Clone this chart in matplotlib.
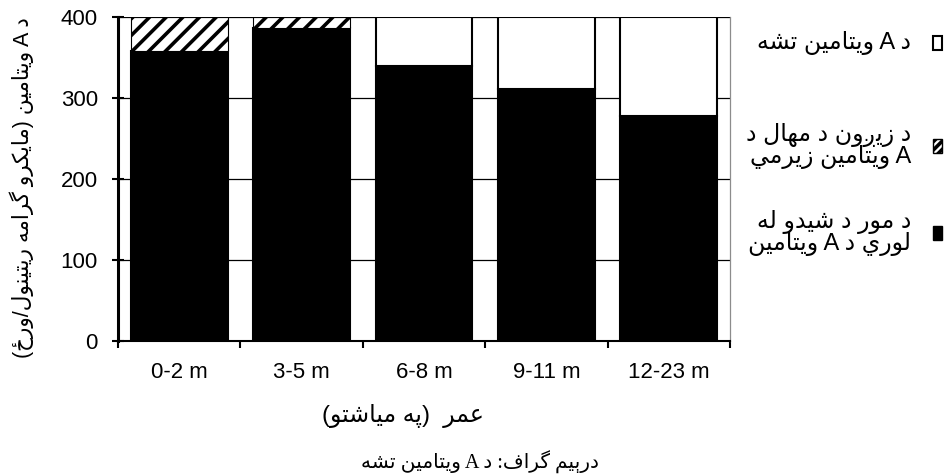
import re
import numpy as np
import matplotlib
matplotlib.use("Agg")
import matplotlib.pyplot as plt
from matplotlib.patches import Rectangle

# ---------------------------------------------------------------- data
age_groups = ["0-2 m", "3-5 m", "6-8 m", "9-11 m", "12-23 m"]
breast_milk = [358, 387, 340, 311, 278]   # vitamin A from breast milk
birth_stores = [42, 13, 0, 0, 0]          # vitamin A stores at birth
gap = [0, 0, 60, 89, 122]                 # vitamin A gap
y_ticks = [0, 100, 200, 300, 400]

legend_gap = "د A ويتامين تشه"
legend_stores = ["د زيږون د مهال د", "A ويتامين زيرمي"]
legend_milk = ["د مور د شيدو له", "لوري د A ويتامين"]
y_title = "د A ويتامين (مايکرو گرامه ريتينول/ورځ)"
x_title = "عمر  (په مياشتو)"
caption = "درېيم گراف: د A ويتامين تشه"

# ------------------------------------------- Arabic-script shaping helper
# contextual forms: (isolated, final, initial, medial); two entries = right-joining only
FORMS = {
    "ا": ("\uFE8D", "\uFE8E"),
    "ب": ("\uFE8F", "\uFE90", "\uFE91", "\uFE92"),
    "ت": ("\uFE95", "\uFE96", "\uFE97", "\uFE98"),
    "ج": ("\uFE9D", "\uFE9E", "\uFE9F", "\uFEA0"),
    "ح": ("\uFEA1", "\uFEA2", "\uFEA3", "\uFEA4"),
    "خ": ("\uFEA5", "\uFEA6", "\uFEA7", "\uFEA8"),
    "د": ("\uFEA9", "\uFEAA"),
    "ذ": ("\uFEAB", "\uFEAC"),
    "ر": ("\uFEAD", "\uFEAE"),
    "ز": ("\uFEAF", "\uFEB0"),
    "س": ("\uFEB1", "\uFEB2", "\uFEB3", "\uFEB4"),
    "ش": ("\uFEB5", "\uFEB6", "\uFEB7", "\uFEB8"),
    "ع": ("\uFEC9", "\uFECA", "\uFECB", "\uFECC"),
    "ف": ("\uFED1", "\uFED2", "\uFED3", "\uFED4"),
    "ك": ("\uFED9", "\uFEDA", "\uFEDB", "\uFEDC"),
    "ل": ("\uFEDD", "\uFEDE", "\uFEDF", "\uFEE0"),
    "م": ("\uFEE1", "\uFEE2", "\uFEE3", "\uFEE4"),
    "ن": ("\uFEE5", "\uFEE6", "\uFEE7", "\uFEE8"),
    "ه": ("\uFEE9", "\uFEEA", "\uFEEB", "\uFEEC"),
    "و": ("\uFEED", "\uFEEE"),
    "ي": ("\uFEF1", "\uFEF2", "\uFEF3", "\uFEF4"),
    "ی": ("\uFBFC", "\uFBFD", "\uFBFE", "\uFBFF"),
    "ې": ("\uFBE4", "\uFBE5", "\uFBE6", "\uFBE7"),
    "پ": ("\uFB56", "\uFB57", "\uFB58", "\uFB59"),
    "ک": ("\uFB8E", "\uFB8F", "\uFB90", "\uFB91"),
    "گ": ("\uFB92", "\uFB93", "\uFB94", "\uFB95"),
    "ږ": ("ږ", "ږ"),
    "ځ": ("ځ", "ځ", "ځ", "ځ"),
}


def shape(s):
    out = []
    for i, c in enumerate(s):
        if c not in FORMS:
            out.append(c)
            continue
        prev = s[i - 1] if i > 0 else ""
        nxt = s[i + 1] if i + 1 < len(s) else ""
        f = FORMS[c]
        join_prev = prev in FORMS and len(FORMS[prev]) == 4
        join_next = len(f) == 4 and nxt in FORMS
        if join_prev and join_next:
            out.append(f[3])
        elif join_prev:
            out.append(f[1])
        elif join_next:
            out.append(f[2])
        else:
            out.append(f[0])
    return "".join(out)


def rtl(s):
    """Shape and put a right-to-left line into display order."""
    v = shape(s)[::-1]
    v = v.translate(str.maketrans("()", ")("))
    return re.sub(r"[A-Za-z0-9]+", lambda m: m.group(0)[::-1], v)


# ---------------------------------------------------------------- style
SANS = ["Liberation Sans", "DejaVu Sans"]
SERIF = ["Liberation Serif", "DejaVu Sans"]
plt.rcParams["font.family"] = SANS
plt.rcParams["hatch.linewidth"] = 2.6

fig = plt.figure(figsize=(9.51, 4.76), dpi=100)
ax = fig.add_axes([0.1241, 0.2836, 0.6435, 0.6807])

x = np.arange(len(age_groups))
width = 0.79
edge = dict(edgecolor="black", linewidth=1.5)

bottom = np.zeros(len(x))
ax.bar(x, breast_milk, width, bottom=bottom, color="black", **edge, zorder=2)
bottom += np.array(breast_milk)
ax.bar(x, birth_stores, width, bottom=bottom, color="white", hatch="//",
       edgecolor="black", linewidth=0.8, zorder=2)
bottom += np.array(birth_stores)
ax.bar(x, gap, width, bottom=bottom, color="white", **edge, zorder=2)

ax.set_xlim(-0.5, len(x) - 0.5)
ax.set_ylim(0, 400)
ax.set_yticks(y_ticks)
ax.yaxis.grid(True, color="black", linewidth=0.9, zorder=0)
ax.set_axisbelow(True)

ax.set_xticks(x)
ax.set_xticklabels(age_groups)
ax.set_xticks(np.arange(-0.5, len(x), 1.0), minor=True)
ax.tick_params(axis="x", which="major", length=0, pad=15, labelsize=16)
ax.tick_params(axis="x", which="minor", length=5, width=1.5, direction="out")
ax.tick_params(axis="y", direction="inout", length=9, width=1.5,
               pad=10, labelsize=16)

ax.spines["top"].set_visible(False)
ax.spines["right"].set_color("#8c8c8c")
ax.spines["right"].set_linewidth(0.9)
ax.spines["left"].set_linewidth(2.2)
ax.spines["bottom"].set_linewidth(1.5)

W, H = 951, 476

# axis titles and caption
fig.text(22 / W, 1 - 188 / H, rtl(y_title), rotation=90, ha="center",
         va="center", fontsize=15.5, family=SANS)
fig.text(403 / W, 1 - 416 / H, rtl(x_title), ha="center", va="center",
         fontsize=17, family=SANS)
fig.text(480 / W, 1 - 462 / H, rtl(caption), ha="center", va="center",
         fontsize=14.5, family=SERIF)

# legend on the right, swatch to the right of each label
entries = [
    ([legend_gap], dict(facecolor="white", edgecolor="black", linewidth=1.5), 43),
    (legend_stores, dict(facecolor="white", edgecolor="black", linewidth=1.0,
                         hatch="////"), 146),
    (legend_milk, dict(facecolor="black", edgecolor="black", linewidth=1.0), 233),
]
for lines, style, yc in entries:
    sw, sh = 9, 14
    fig.add_artist(Rectangle(((937 - sw / 2) / W, 1 - (yc + sh / 2) / H),
                             sw / W, sh / H, transform=fig.transFigure, **style))
    n = len(lines)
    for k, line in enumerate(lines):
        yl = yc + (k - (n - 1) / 2) * 22
        fig.text(911 / W, 1 - yl / H, rtl(line), ha="right", va="center",
                 fontsize=17, family=SANS)

fig.savefig("out.png", dpi=100)
